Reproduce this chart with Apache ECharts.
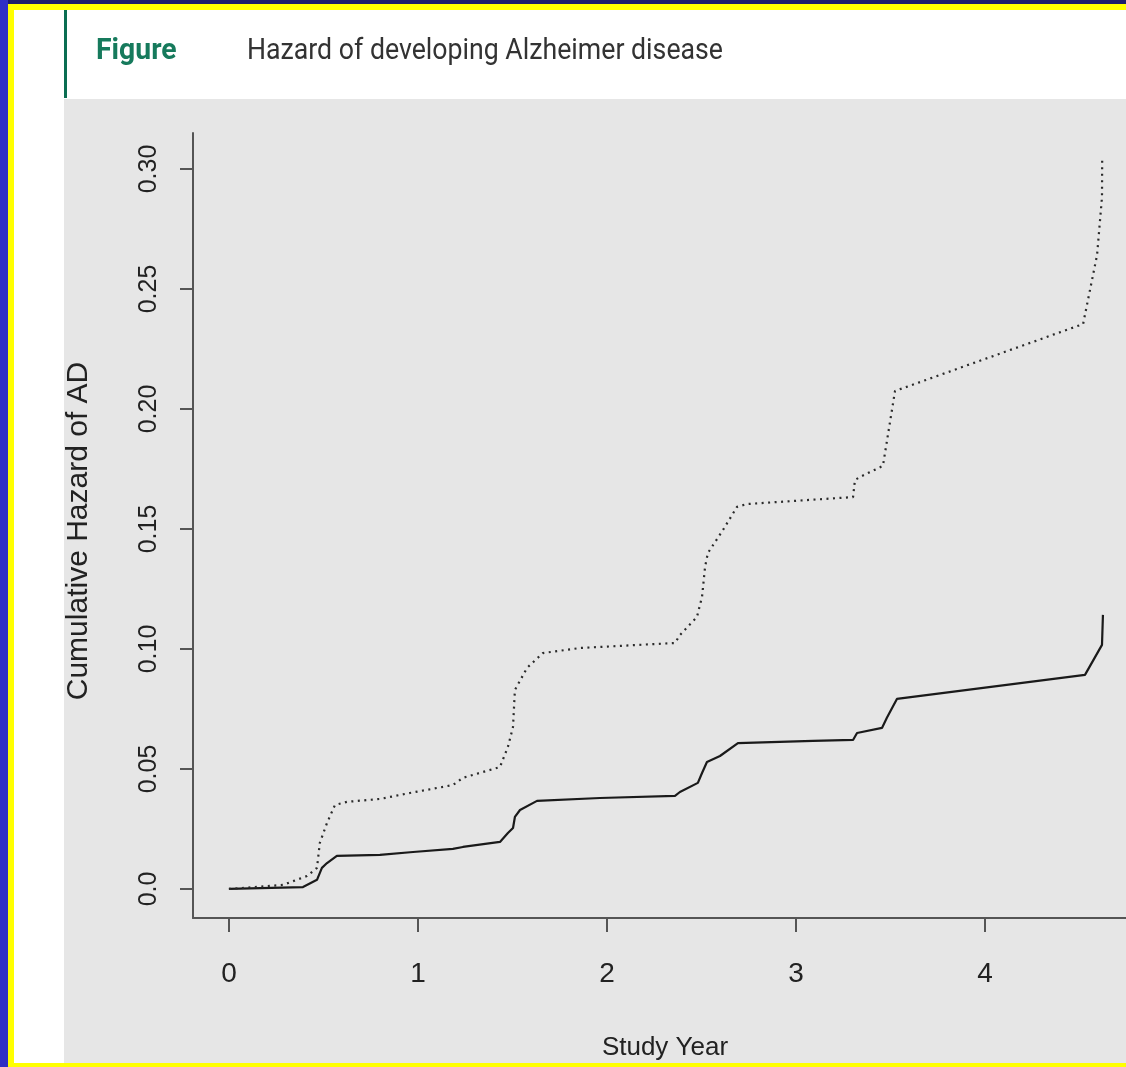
<!DOCTYPE html>
<html>
<head>
<meta charset="utf-8">
<script src="https://cdn.jsdelivr.net/npm/echarts@6/dist/echarts.min.js"></script>
<style>
html,body{margin:0;padding:0;background:#fff;}
#c{width:1126px;height:1067px;}
</style>
</head>
<body>
<div id="c"></div>
<script>
// ---- data ----
const solidYears = [0, 0.392, 0.466, 0.492, 0.519, 0.571, 0.799, 0.974, 1.185, 1.238, 1.434, 1.476, 1.503, 1.513, 1.540, 1.630, 1.963, 2.360, 2.386, 2.481, 2.503, 2.529, 2.598, 2.693, 3.090, 3.302, 3.323, 3.455, 3.481, 3.534, 4.529, 4.619, 4.624];
const solidHazard = [0, 0.0008, 0.0038, 0.0088, 0.0108, 0.0138, 0.0142, 0.0154, 0.0167, 0.0175, 0.0196, 0.0233, 0.0254, 0.0300, 0.0329, 0.0367, 0.0379, 0.0388, 0.0404, 0.0442, 0.0483, 0.0529, 0.0554, 0.0608, 0.0617, 0.0621, 0.0650, 0.0671, 0.0713, 0.0792, 0.0892, 0.1017, 0.1142];
const dottedYears = [0, 0.286, 0.413, 0.466, 0.481, 0.519, 0.561, 0.624, 0.799, 0.958, 1.185, 1.238, 1.434, 1.476, 1.503, 1.513, 1.577, 1.661, 1.857, 2.360, 2.386, 2.476, 2.503, 2.519, 2.534, 2.614, 2.688, 2.741, 3.302, 3.312, 3.339, 3.460, 3.524, 4.519, 4.593, 4.619, 4.620];
const dottedHazard = [0, 0.0017, 0.0054, 0.0088, 0.0192, 0.0275, 0.0350, 0.0363, 0.0375, 0.0400, 0.0433, 0.0463, 0.0508, 0.0592, 0.0675, 0.0829, 0.0921, 0.0983, 0.1004, 0.1025, 0.1058, 0.1133, 0.1217, 0.1342, 0.1400, 0.1496, 0.1592, 0.1604, 0.1633, 0.1704, 0.1717, 0.1763, 0.2075, 0.2354, 0.2642, 0.2883, 0.3042];
const xTicks = [0, 1, 2, 3, 4];
const yTicks = [0, 0.05, 0.10, 0.15, 0.20, 0.25, 0.30];
const yTickLabels = ['0.0', '0.05', '0.10', '0.15', '0.20', '0.25', '0.30'];
const figureLabel = 'Figure';
const figureTitle = 'Hazard of developing Alzheimer disease';
const xTitle = 'Study Year';
const yTitle = 'Cumulative Hazard of AD';

const zip = (a, b) => a.map((v, i) => [v, b[i]]);
const plotFont = '"Liberation Sans", Arial, sans-serif';

const chart = echarts.init(document.getElementById('c'), null, {renderer: 'canvas'});
chart.setOption({
  animation: false,
  backgroundColor: '#ffffff',
  graphic: [
    // frame
    {type: 'rect', shape: {x: 0, y: 0, width: 1126, height: 4}, style: {fill: '#1c1c6c'}, z: 0},
    {type: 'rect', shape: {x: 0, y: 4, width: 1126, height: 6}, style: {fill: '#ffff00'}, z: 0},
    {type: 'rect', shape: {x: 0, y: 0, width: 8, height: 1067}, style: {fill: '#2f2fc4'}, z: 1},
    {type: 'rect', shape: {x: 8, y: 4, width: 6, height: 1063}, style: {fill: '#ffff00'}, z: 1},
    {type: 'rect', shape: {x: 8, y: 1063, width: 1118, height: 4}, style: {fill: '#ffff00'}, z: 1},
    // grey plot panel
    {type: 'rect', shape: {x: 64, y: 99, width: 1062, height: 964}, style: {fill: '#e6e6e6'}, z: 0},
    // green bar
    {type: 'rect', shape: {x: 64, y: 10, width: 3, height: 88}, style: {fill: '#0b6e52'}, z: 1},
    {type: 'text', x: 96, y: 52, style: {text: figureLabel, font: 'bold 27px Roboto, "Noto Sans", sans-serif', fill: '#167a5c', verticalAlign: 'middle'}, scaleX: 1.05, scaleY: 1.1},
    {type: 'text', x: 247, y: 52, style: {text: figureTitle, font: '26.7px Roboto, "Noto Sans", sans-serif', fill: '#333333', verticalAlign: 'middle'}, scaleY: 1.12},
    // axis titles
    {type: 'text', x: 665, y: 1048, style: {text: xTitle, font: '26px ' + plotFont, fill: '#222', align: 'center', verticalAlign: 'middle'}, z: 5},
    {type: 'text', x: 79, y: 531, rotation: Math.PI / 2, style: {text: yTitle, font: '30px ' + plotFont, fill: '#222', align: 'center', verticalAlign: 'middle'}, z: 5}
  ],
  grid: {left: 193, top: 133, right: 0, bottom: 149, containLabel: false, show: false},
  xAxis: {
    type: 'value', min: -0.19, max: 4.746,
    splitLine: {show: false},
    axisLine: {show: true, onZero: false, lineStyle: {color: '#555', width: 2}},
    axisTick: {show: true, inside: false, length: 14, customValues: xTicks, lineStyle: {color: '#555', width: 2}},
    axisLabel: {show: true, customValues: xTicks, margin: 42, fontSize: 28, fontFamily: plotFont, color: '#222', formatter: v => String(v)}
  },
  yAxis: {
    type: 'value', min: -0.0121, max: 0.315,
    splitLine: {show: false},
    axisLine: {show: true, onZero: false, lineStyle: {color: '#555', width: 2}},
    axisTick: {show: true, inside: false, length: 13, customValues: yTicks, lineStyle: {color: '#555', width: 2}},
    axisLabel: {show: true, customValues: yTicks, rotate: 90, margin: 31, fontSize: 25, fontFamily: plotFont, color: '#222',
      formatter: v => { const i = yTicks.findIndex(t => Math.abs(t - v) < 1e-9); return i >= 0 ? yTickLabels[i] : ''; }}
  },
  series: [
    {type: 'line', name: 'solid', data: zip(solidYears, solidHazard), showSymbol: false, symbol: 'none',
      lineStyle: {color: '#1a1a1a', width: 2.2, type: 'solid'}, z: 3},
    {type: 'line', name: 'dotted', data: zip(dottedYears, dottedHazard), showSymbol: false, symbol: 'none',
      lineStyle: {color: '#2a2a2a', width: 2.2, type: [2, 4.5]}, z: 3}
  ]
});
</script>
</body>
</html>
